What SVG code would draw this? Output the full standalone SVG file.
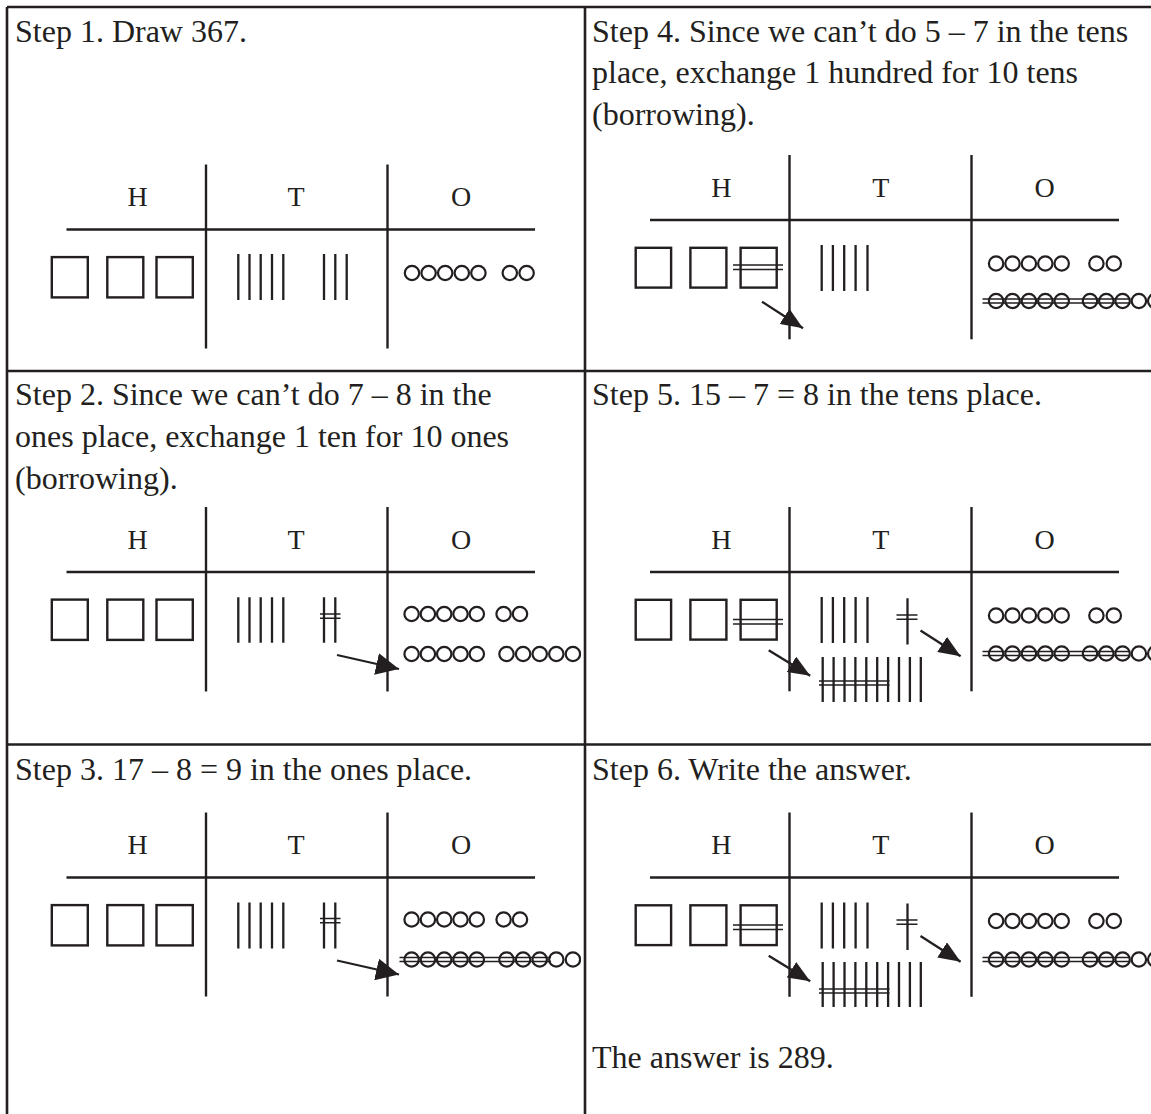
<svg xmlns="http://www.w3.org/2000/svg" width="1151" height="1114" viewBox="0 0 1151 1114">
<style>
.t{font-family:"Liberation Serif","Times New Roman",serif;font-size:32px;fill:#231f20}
.lb{font-family:"Liberation Serif","Times New Roman",serif;font-size:28px;fill:#231f20;text-anchor:middle}
.fr{stroke:#231f20;stroke-width:2.6;fill:none}
.ln{stroke:#231f20;stroke-width:2.4;fill:none}
.sq{stroke:#231f20;stroke-width:2.4;fill:none}
.st{stroke:#231f20;stroke-width:2.3;fill:none}
.k{stroke:#231f20;stroke-width:1.5;fill:none}
.c{stroke:#231f20;stroke-width:2.2;fill:none}
.ar{stroke:#231f20;stroke-width:2.3;fill:none}
</style>
<defs>
<marker id="ahL" markerWidth="23" markerHeight="22" refX="23" refY="11" orient="auto" markerUnits="userSpaceOnUse"><path d="M0,0 L23,11 L0,22 z" fill="#231f20"/></marker>
<marker id="ahR" markerWidth="22" markerHeight="18" refX="22" refY="9" orient="auto" markerUnits="userSpaceOnUse"><path d="M0,0 L22,9 L0,18 z" fill="#231f20"/></marker>
<clipPath id="clipL"><rect x="0" y="0" width="581" height="1114"/></clipPath>
</defs>
<rect width="1151" height="1114" fill="#fff"/>

<g id="frame">
<line class="fr" x1="7" y1="7" x2="1151" y2="7"/>
<line class="fr" x1="7" y1="7" x2="7" y2="1114"/>
<line class="fr" x1="585" y1="7" x2="585" y2="1114"/>
<line class="fr" x1="7" y1="371" x2="1151" y2="371"/>
<line class="fr" x1="7" y1="744.5" x2="1151" y2="744.5"/>
</g>

<!-- Step 1 -->
<g id="step1">
<text class="t" x="15" y="41.5">Step 1. Draw 367.</text>
<line class="ln" x1="206" y1="164.5" x2="206" y2="348.5"/>
<line class="ln" x1="387.5" y1="164.5" x2="387.5" y2="348.5"/>
<line class="ln" x1="66.5" y1="229.5" x2="535" y2="229.5"/>
<text class="lb" x="137.5" y="206">H</text>
<text class="lb" x="296" y="206">T</text>
<text class="lb" x="461" y="206">O</text>
<rect class="sq" x="51.8" y="257.1" width="36" height="40.3"/>
<rect class="sq" x="107.3" y="257.1" width="36" height="40.3"/>
<rect class="sq" x="156.5" y="257.1" width="36.3" height="40.3"/>
<path class="st" d="M238.3,254V300M249.5,254V300M260.7,254V300M272,254V300M283.3,254V300M324,254V300M335.3,254V300M346.7,254V300"/>
<g class="c">
<circle cx="412" cy="273" r="7.2"/><circle cx="428.6" cy="273" r="7.2"/><circle cx="445.2" cy="273" r="7.2"/><circle cx="461.8" cy="273" r="7.2"/><circle cx="478.4" cy="273" r="7.2"/>
<circle cx="509.8" cy="273" r="7.2"/><circle cx="526.6" cy="273" r="7.2"/>
</g>
</g>

<!-- Step 2 -->
<g id="step2">
<text class="t" x="15" y="405">Step 2. Since we can’t do 7 – 8 in the</text>
<text class="t" x="15" y="447">ones place, exchange 1 ten for 10 ones</text>
<text class="t" x="15" y="489">(borrowing).</text>
<line class="ln" x1="206" y1="507" x2="206" y2="691.5"/>
<line class="ln" x1="387.5" y1="507" x2="387.5" y2="691.5"/>
<line class="ln" x1="66.5" y1="572" x2="535" y2="572"/>
<text class="lb" x="137.5" y="548.5">H</text>
<text class="lb" x="296" y="548.5">T</text>
<text class="lb" x="461" y="548.5">O</text>
<rect class="sq" x="51.8" y="599.6" width="36" height="40.3"/>
<rect class="sq" x="107.3" y="599.6" width="36" height="40.3"/>
<rect class="sq" x="156.5" y="599.6" width="36.3" height="40.3"/>
<path class="st" d="M238.3,597.3V642.7M249.5,597.3V642.7M260.7,597.3V642.7M272,597.3V642.7M283.3,597.3V642.7M324,597.3V642.7M335.3,597.3V642.7"/>
<path class="k" d="M320,614H340.5M320,618.3H340.5"/>
<g class="c" clip-path="url(#clipL)">
<circle cx="411.6" cy="614" r="7.2"/><circle cx="427.9" cy="614" r="7.2"/><circle cx="444.2" cy="614" r="7.2"/><circle cx="460.5" cy="614" r="7.2"/><circle cx="476.8" cy="614" r="7.2"/>
<circle cx="503.6" cy="614" r="7.2"/><circle cx="520" cy="614" r="7.2"/>
<circle cx="411.6" cy="654" r="7.2"/><circle cx="427.9" cy="654" r="7.2"/><circle cx="444.2" cy="654" r="7.2"/><circle cx="460.5" cy="654" r="7.2"/><circle cx="476.8" cy="654" r="7.2"/>
<circle cx="506.5" cy="654" r="7.2"/><circle cx="523.1" cy="654" r="7.2"/><circle cx="539.7" cy="654" r="7.2"/><circle cx="556.3" cy="654" r="7.2"/><circle cx="572.9" cy="654" r="7.2"/>
</g>
</g>

<!-- Step 3 -->
<g id="step3">
<text class="t" x="15" y="780">Step 3. 17 – 8 = 9 in the ones place.</text>
<line class="ln" x1="206" y1="812.5" x2="206" y2="996.5"/>
<line class="ln" x1="387.5" y1="812.5" x2="387.5" y2="996.5"/>
<line class="ln" x1="66.5" y1="877.5" x2="535" y2="877.5"/>
<text class="lb" x="137.5" y="854">H</text>
<text class="lb" x="296" y="854">T</text>
<text class="lb" x="461" y="854">O</text>
<rect class="sq" x="51.8" y="905.1" width="36" height="40.3"/>
<rect class="sq" x="107.3" y="905.1" width="36" height="40.3"/>
<rect class="sq" x="156.5" y="905.1" width="36.3" height="40.3"/>
<path class="st" d="M238.3,902.5V948.5M249.5,902.5V948.5M260.7,902.5V948.5M272,902.5V948.5M283.3,902.5V948.5M324,902.5V948.5M335.3,902.5V948.5"/>
<path class="k" d="M320,918.5H340.5M320,922.7H340.5"/>
<g class="c" clip-path="url(#clipL)">
<circle cx="411.6" cy="919.5" r="7.2"/><circle cx="427.9" cy="919.5" r="7.2"/><circle cx="444.2" cy="919.5" r="7.2"/><circle cx="460.5" cy="919.5" r="7.2"/><circle cx="476.8" cy="919.5" r="7.2"/>
<circle cx="503.6" cy="919.5" r="7.2"/><circle cx="520" cy="919.5" r="7.2"/>
<circle cx="411.6" cy="959.5" r="7.2"/><circle cx="427.9" cy="959.5" r="7.2"/><circle cx="444.2" cy="959.5" r="7.2"/><circle cx="460.5" cy="959.5" r="7.2"/><circle cx="476.8" cy="959.5" r="7.2"/>
<circle cx="506.5" cy="959.5" r="7.2"/><circle cx="523.1" cy="959.5" r="7.2"/><circle cx="539.7" cy="959.5" r="7.2"/><circle cx="556.3" cy="959.5" r="7.2"/><circle cx="572.9" cy="959.5" r="7.2"/>
</g>
<path class="k" d="M399.5,957.5H551M399.5,961.5H551"/>
</g>

<!-- Step 4 -->
<g id="step4">
<text class="t" x="592" y="41.5">Step 4. Since we can’t do 5 – 7 in the tens</text>
<text class="t" x="592" y="83">place, exchange 1 hundred for 10 tens</text>
<text class="t" x="592" y="124.5">(borrowing).</text>
<line class="ln" x1="789.5" y1="155" x2="789.5" y2="339.3"/>
<line class="ln" x1="971.5" y1="155" x2="971.5" y2="339.3"/>
<line class="ln" x1="650" y1="220" x2="1119" y2="220"/>
<text class="lb" x="721.3" y="196.5">H</text>
<text class="lb" x="880.8" y="196.5">T</text>
<text class="lb" x="1044.7" y="196.5">O</text>
<rect class="sq" x="635.7" y="247.8" width="35.4" height="39.8"/>
<rect class="sq" x="690.4" y="247.8" width="36" height="39.8"/>
<rect class="sq" x="740.6" y="247.8" width="36.1" height="39.8"/>
<path class="k" d="M733,265H783M733,269.5H783"/>
<path class="st" d="M821.7,245V291M832.9,245V291M844.2,245V291M855.6,245V291M867.5,245V291"/>
<g class="c">
<circle cx="996.1" cy="263.5" r="7.2"/><circle cx="1012.5" cy="263.5" r="7.2"/><circle cx="1028.9" cy="263.5" r="7.2"/><circle cx="1045.3" cy="263.5" r="7.2"/><circle cx="1061.7" cy="263.5" r="7.2"/>
<circle cx="1096.4" cy="263.5" r="7.2"/><circle cx="1113.8" cy="263.5" r="7.2"/>
<circle cx="996.1" cy="301" r="7.2"/><circle cx="1012.5" cy="301" r="7.2"/><circle cx="1028.9" cy="301" r="7.2"/><circle cx="1045.3" cy="301" r="7.2"/><circle cx="1061.7" cy="301" r="7.2"/>
<circle cx="1090" cy="301" r="7.2"/><circle cx="1106.3" cy="301" r="7.2"/><circle cx="1122.6" cy="301" r="7.2"/><circle cx="1138.9" cy="301" r="7.2"/><circle cx="1155.2" cy="301" r="7.2"/>
</g>
<path class="k" d="M982.5,299H1130.5M982.5,303H1130.5"/>
</g>

<!-- Step 5 -->
<g id="step5">
<text class="t" x="592" y="405">Step 5. 15 – 7 = 8 in the tens place.</text>
<line class="ln" x1="789.5" y1="507" x2="789.5" y2="691.3"/>
<line class="ln" x1="971.5" y1="507" x2="971.5" y2="691.3"/>
<line class="ln" x1="650" y1="572" x2="1119" y2="572"/>
<text class="lb" x="721.3" y="548.5">H</text>
<text class="lb" x="880.8" y="548.5">T</text>
<text class="lb" x="1044.7" y="548.5">O</text>
<rect class="sq" x="635.7" y="599.8" width="35.4" height="39.8"/>
<rect class="sq" x="690.4" y="599.8" width="36" height="39.8"/>
<rect class="sq" x="740.6" y="599.8" width="36.1" height="39.8"/>
<path class="k" d="M733,619.5H783M733,624H783"/>
<path class="st" d="M821.7,597V643M832.9,597V643M844.2,597V643M855.6,597V643M867.5,597V643M907.5,598.3V644.5"/>
<path class="k" d="M896.5,615H917.5M896.5,619.3H917.5"/>
<path class="st" d="M822.7,657V702M833.6,657V702M844.5,657V702M855.4,657V702M866.3,657V702M877.2,657V702M888.1,657V702M899,657V702M909.9,657V702M920.8,657V702"/>
<path class="k" d="M819,681H889.5M819,685H889.5"/>
<g class="c">
<circle cx="996.1" cy="615.5" r="7.2"/><circle cx="1012.5" cy="615.5" r="7.2"/><circle cx="1028.9" cy="615.5" r="7.2"/><circle cx="1045.3" cy="615.5" r="7.2"/><circle cx="1061.7" cy="615.5" r="7.2"/>
<circle cx="1096.4" cy="615.5" r="7.2"/><circle cx="1113.8" cy="615.5" r="7.2"/>
<circle cx="996.1" cy="653.5" r="7.2"/><circle cx="1012.5" cy="653.5" r="7.2"/><circle cx="1028.9" cy="653.5" r="7.2"/><circle cx="1045.3" cy="653.5" r="7.2"/><circle cx="1061.7" cy="653.5" r="7.2"/>
<circle cx="1090" cy="653.5" r="7.2"/><circle cx="1106.3" cy="653.5" r="7.2"/><circle cx="1122.6" cy="653.5" r="7.2"/><circle cx="1138.9" cy="653.5" r="7.2"/><circle cx="1155.2" cy="653.5" r="7.2"/>
</g>
<path class="k" d="M982.5,651.5H1130.5M982.5,655.5H1130.5"/>
</g>

<!-- Step 6 -->
<g id="step6">
<text class="t" x="592" y="780">Step 6. Write the answer.</text>
<line class="ln" x1="789.5" y1="812.5" x2="789.5" y2="996.8"/>
<line class="ln" x1="971.5" y1="812.5" x2="971.5" y2="996.8"/>
<line class="ln" x1="650" y1="877.5" x2="1119" y2="877.5"/>
<text class="lb" x="721.3" y="854">H</text>
<text class="lb" x="880.8" y="854">T</text>
<text class="lb" x="1044.7" y="854">O</text>
<rect class="sq" x="635.7" y="905.3" width="35.4" height="39.8"/>
<rect class="sq" x="690.4" y="905.3" width="36" height="39.8"/>
<rect class="sq" x="740.6" y="905.3" width="36.1" height="39.8"/>
<path class="k" d="M733,925H783M733,929.5H783"/>
<path class="st" d="M821.7,902.5V948.5M832.9,902.5V948.5M844.2,902.5V948.5M855.6,902.5V948.5M867.5,902.5V948.5M907.5,903.5V950"/>
<path class="k" d="M896.5,920H917.5M896.5,924.3H917.5"/>
<path class="st" d="M822.7,962V1007M833.6,962V1007M844.5,962V1007M855.4,962V1007M866.3,962V1007M877.2,962V1007M888.1,962V1007M899,962V1007M909.9,962V1007M920.8,962V1007"/>
<path class="k" d="M819,989H889.5M819,993H889.5"/>
<g class="c">
<circle cx="996.1" cy="921" r="7.2"/><circle cx="1012.5" cy="921" r="7.2"/><circle cx="1028.9" cy="921" r="7.2"/><circle cx="1045.3" cy="921" r="7.2"/><circle cx="1061.7" cy="921" r="7.2"/>
<circle cx="1096.4" cy="921" r="7.2"/><circle cx="1113.8" cy="921" r="7.2"/>
<circle cx="996.1" cy="959.5" r="7.2"/><circle cx="1012.5" cy="959.5" r="7.2"/><circle cx="1028.9" cy="959.5" r="7.2"/><circle cx="1045.3" cy="959.5" r="7.2"/><circle cx="1061.7" cy="959.5" r="7.2"/>
<circle cx="1090" cy="959.5" r="7.2"/><circle cx="1106.3" cy="959.5" r="7.2"/><circle cx="1122.6" cy="959.5" r="7.2"/><circle cx="1138.9" cy="959.5" r="7.2"/><circle cx="1155.2" cy="959.5" r="7.2"/>
</g>
<path class="k" d="M982.5,957.5H1130.5M982.5,961.5H1130.5"/>
<text class="t" x="592" y="1068">The answer is 289.</text>
</g>

<g id="connectors">
<line class="ar" x1="337" y1="655" x2="399" y2="669" marker-end="url(#ahL)"/>
<line class="ar" x1="337" y1="960.5" x2="399" y2="974.5" marker-end="url(#ahL)"/>
<line class="ar" x1="762" y1="301.7" x2="803" y2="328.3" marker-end="url(#ahR)"/>
<line class="ar" x1="768.7" y1="650.3" x2="810.2" y2="675.8" marker-end="url(#ahR)"/>
<line class="ar" x1="920.5" y1="630.5" x2="960.6" y2="656.3" marker-end="url(#ahR)"/>
<line class="ar" x1="768.7" y1="955.8" x2="810.2" y2="981.3" marker-end="url(#ahR)"/>
<line class="ar" x1="920.5" y1="936" x2="960.6" y2="961.8" marker-end="url(#ahR)"/>
</g>
</svg>
